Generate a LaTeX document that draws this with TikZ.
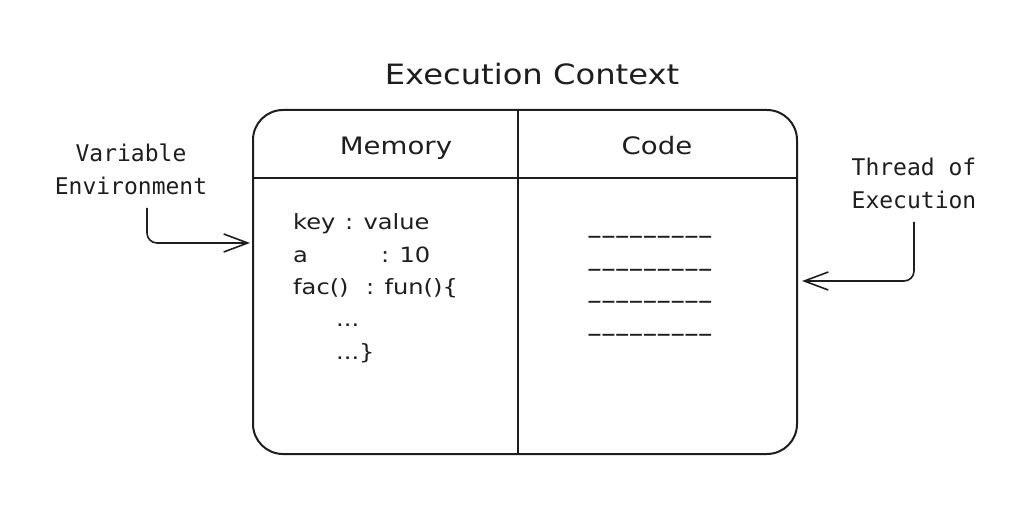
\documentclass[tikz,border=0pt]{standalone}
\usepackage{fontspec}
\setmainfont{DejaVu Sans}[FakeStretch=1.15]
\newfontfamily\monof{DejaVu Sans Mono}
\usetikzlibrary{arrows.meta}
\definecolor{ink}{HTML}{1E1E1E}
\begin{document}
\begin{tikzpicture}[x=1pt,y=-1pt,
  hand/.style={inner sep=0pt, text=ink},
  handtitle/.style={hand, font=\fontsize{28}{32}\selectfont},
  handhead/.style={hand, font=\fontsize{24}{28}\selectfont},
  handbody/.style={hand, font=\fontsize{21}{24}\selectfont, anchor=base west},
  mono/.style={inner sep=0pt, text=ink, font=\monof\fontsize{23}{33}\selectfont, align=center},
  dashline/.style={inner sep=0pt, text=ink, font=\monof\fontsize{23}{28}\selectfont, anchor=base},
  frame/.style={draw=ink, line width=2pt},
  arr/.style={draw=ink, line width=1.6pt, rounded corners=10pt, -{Straight Barb[length=24pt,width=18pt,line width=1.6pt]}}
]
\useasboundingbox[fill=white] (0,0) rectangle (1026,521);

% frame
\node[frame, rounded corners=30pt, minimum width=544pt, minimum height=344pt, inner sep=0pt] (ctx) at (525,282) {};
\coordinate (hl) at (253,178);
\coordinate (hr) at (797,178);
\coordinate (vt) at (518,110);
\coordinate (vb) at (518,454);
\draw[frame] (hl) -- (hr);
\draw[frame] (vt) -- (vb);

% title and headers
\node[handtitle, anchor=base] (title) at (532,85) {Execution Context};
\node[handhead, anchor=base] (mem) at (396,155) {Memory};
\node[handhead, anchor=base] (code) at (657,155) {Code};

% memory contents
\node[handbody] (k1) at (293,230) {key};
\node[handbody] (v1) at (345,230) {: value};
\node[handbody] (k2) at (293,263) {a};
\node[handbody] (v2) at (381,263) {: 10};
\node[handbody] (k3) at (293,295) {fac()};
\node[handbody] (v3) at (366,295) {: fun()\{};
\node[handbody] (d1) at (336,327) {...};
\node[handbody] (d2) at (336,360) {...\}};

% code lines
\node[dashline] (c1) at (650,245) {−−−−−−−−−};
\node[dashline] (c2) at (650,278) {−−−−−−−−−};
\node[dashline] (c3) at (650,310) {−−−−−−−−−};
\node[dashline] (c4) at (650,343) {−−−−−−−−−};

% side labels
\node[mono] (ve) at (131,169) {Variable\\Environment};
\node[mono] (te) at (914,183) {Thread of\\Execution};

\coordinate (vestart) at (147,208);
\coordinate (veend) at (250,243);
\coordinate (testart) at (914,222);
\coordinate (teend) at (802,281);
\draw[arr] (vestart) |- (veend);
\draw[arr] (testart) |- (teend);
\end{tikzpicture}
\end{document}
